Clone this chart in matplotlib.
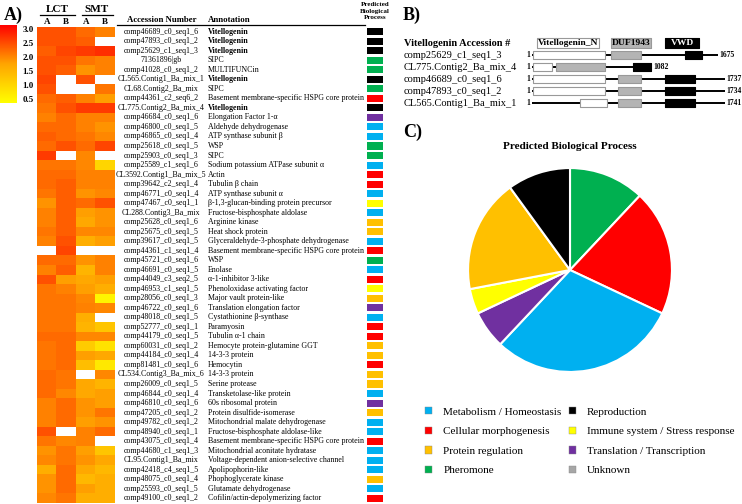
import numpy as np
import matplotlib
matplotlib.use("Agg")
import matplotlib.pyplot as plt
from matplotlib.colors import LinearSegmentedColormap
from matplotlib.patches import Patch

plt.rcParams['font.family'] = ['Liberation Serif', 'DejaVu Serif']

nan = np.nan

accessions = [
    "comp46689_c0_seq1_6", "comp47893_c0_seq1_2", "comp25629_c1_seq1_3", "71361896|gb",
    "comp41028_c0_seq1_2", "CL565.Contig1_Ba_mix_1", "CL68.Contig2_Ba_mix", "comp44361_c2_seq6_2",
    "CL775.Contig2_Ba_mix_4", "comp46684_c0_seq1_6", "comp46800_c0_seq1_5", "comp46865_c0_seq1_4",
    "comp25618_c0_seq1_5", "comp25903_c0_seq1_3", "comp25589_c1_seq1_6", "CL3592.Contig1_Ba_mix_5",
    "comp39642_c2_seq1_4", "comp46771_c0_seq1_4", "comp47467_c0_seq1_1", "CL288.Contig3_Ba_mix",
    "comp25628_c0_seq1_6", "comp25675_c0_seq1_5", "comp39617_c0_seq1_5", "comp44361_c1_seq1_4",
    "comp45721_c0_seq1_6", "comp46691_c0_seq1_5", "comp44049_c3_seq2_5", "comp46953_c1_seq1_5",
    "comp28056_c0_seq1_3", "comp46722_c0_seq1_6", "comp48018_c0_seq1_5", "comp52777_c0_seq1_1",
    "comp44179_c0_seq1_5", "comp60031_c0_seq1_2", "comp44184_c0_seq1_4", "comp81481_c0_seq1_6",
    "CL534.Contig3_Ba_mix_6", "comp26009_c0_seq1_5", "comp46844_c0_seq1_4", "comp46810_c0_seq1_6",
    "comp47205_c0_seq1_2", "comp49782_c0_seq1_2", "comp48940_c0_seq1_1", "comp43075_c0_seq1_4",
    "comp44680_c1_seq1_3", "CL95.Contig1_Ba_mix", "comp42418_c4_seq1_5", "comp48075_c0_seq1_4",
    "comp25593_c0_seq1_5", "comp49100_c0_seq1_2",
]

annotations = [
    "Vitellogenin", "Vitellogenin", "Vitellogenin", "SIPC",
    "MULTIFUNCin", "Vitellogenin", "SIPC", "Basement membrane-specific HSPG core protein",
    "Vitellogenin", "Elongation Factor 1-α", "Aldehyde dehydrogenase", "ATP synthase subunit β",
    "WSP", "SIPC", "Sodium potassium ATPase subunit α", "Actin",
    "Tubulin β chain", "ATP synthase subunit α", "β-1,3-glucan-binding protein precursor", "Fructose-bisphosphate aldolase",
    "Arginine kinase", "Heat shock protein", "Glyceraldehyde-3-phosphate dehydrogenase", "Basement membrane-specific HSPG core protein",
    "WSP", "Enolase", "α-1-inhibitor 3-like", "Phenoloxidase activating factor",
    "Major vault protein-like", "Translation elongation factor", "Cystathionine β-synthase", "Paramyosin",
    "Tubulin α-1 chain", "Hemocyte protein-glutamine GGT", "14-3-3 protein", "Hemocytin",
    "14-3-3 protein", "Serine protease", "Transketolase-like protein", "60s ribosomal protein",
    "Protein disulfide-isomerase", "Mitochondrial malate dehydrogenase", "Fructose-bisphosphate aldolase-like", "Basement membrane-specific HSPG core protein",
    "Mitochondrial aconitate hydratase", "Voltage-dependent anion-selective channel", "Apolipophorin-like", "Phophoglycerate kinase",
    "Glutamate dehydrogenase", "Cofilin/actin-depolymerizing factor",
]

# process codes: M metabolism, C cellular morph., P protein reg., H pheromone,
# R reproduction, I immune, T translation
process = [
    "R", "R", "R", "H", "H", "R", "H", "C", "R", "T",
    "M", "M", "H", "H", "M", "C", "C", "M", "I", "M",
    "P", "P", "M", "C", "H", "M", "C", "I", "P", "T",
    "M", "C", "C", "P", "P", "C", "P", "P", "M", "T",
    "P", "M", "M", "C", "M", "M", "M", "P", "M", "C",
]

lct_a = [2.45, 2.45, 2.35, 2.45, 2.45, 2.55, 2.45, 2.25, 2.15, 2.05,
         2.25, 2.35, 2.25, 2.65, 2.15, 2.25, 2.25, 2.15, 1.9, 2.05,
         2.05, 2.15, 2.05, nan, 2.25, 2.05, 2.45, 2.15, 2.15, 2.15,
         2.15, 2.15, 2.25, 2.15, 2.15, 2.15, 2.25, 2.25, 2.25, 2.05,
         2.05, 2.05, 2.45, 2.15, 1.9, 2.0, 1.6, 1.9, 1.9, 2.0]
lct_b = [2.45, 2.45, 2.55, 2.45, 2.35, nan, nan, 2.35, 2.45, 2.25,
         2.25, 2.25, 2.45, nan, 2.15, 2.25, 2.35, 2.35, 2.35, 2.35,
         2.35, 2.35, 2.45, 2.55, 2.25, 2.35, 1.8, 2.05, 2.15, 2.15,
         2.15, 2.15, 2.25, 2.25, 2.25, 2.25, 2.15, 2.15, 2.0, 2.25,
         2.25, 2.25, nan, 2.0, 2.15, 2.15, 2.25, 2.25, 2.25, 2.15]
smt_a = [2.25, 2.35, 2.65, 2.15, 1.9, 2.45, nan, 2.05, 2.65, 2.05,
         2.05, 2.15, 2.25, 2.0, 2.0, 2.05, 2.05, 1.9, 2.25, 1.8,
         1.7, 2.0, 1.6, nan, 1.9, 1.5, 1.7, 1.8, 2.0, 2.05,
         1.6, 1.5, 2.0, 1.15, 1.8, 1.35, nan, 1.7, 1.7, 1.9,
         1.9, 1.8, 2.05, 2.05, 1.8, 1.9, 1.7, 1.45, 1.8, 1.6]
smt_b = [2.05, nan, 2.75, 2.05, 2.05, nan, 2.15, 1.8, 2.65, 2.05,
         1.9, 2.0, 2.55, nan, 1.0, 2.05, 2.05, 2.0, 2.45, 1.9,
         1.9, 2.0, 1.8, nan, 2.05, 2.05, 1.8, 1.6, 0.5, 2.0,
         nan, 1.25, 2.0, 0.8, 1.7, 0.7, 2.0, 1.5, 1.8, 1.8,
         2.15, 1.9, 2.25, nan, 1.25, 1.7, 1.45, 1.6, 1.6, 1.6]

col_labels = ["A", "B", "A", "B"]

cat_keys = ["M", "C", "P", "H", "R", "I", "T", "U"]
cat_names = ["Metabolism / Homeostasis", "Cellular morphogenesis", "Protein regulation", "Pheromone",
             "Reproduction", "Immune system / Stress response", "Translation / Transcription", "Unknown"]
cat_colors = ["#00b0f0", "#ff0000", "#ffc000", "#00b050", "#000000", "#ffff00", "#7030a0", "#a6a6a6"]
pie_order = ["H", "C", "M", "T", "I", "P", "R"]

# vitellogenin domain architecture (amino acid positions)
vtg_ids = ["comp25629_c1_seq1_3", "CL775.Contig2_Ba_mix_4", "comp46689_c0_seq1_6",
           "comp47893_c0_seq1_2", "CL565.Contig1_Ba_mix_1"]
vtg_len = [1675, 1082, 1737, 1734, 1741]
vtg_n = [(10, 658), (10, 180), (10, 658), (10, 658), (432, 675)]
vtg_duf = [(712, 982), (216, 658), (775, 982), (775, 982), (775, 982)]
vtg_vwd = [(1378, 1531), (910, 1072), (1198, 1468), (1198, 1468), (1198, 1468)]

W, H = 742, 504
fig = plt.figure(figsize=(W / 100, H / 100), dpi=100)


def px_axes(x0, y0, x1, y1):
    return fig.add_axes([x0 / W, 1 - y1 / H, (x1 - x0) / W, (y1 - y0) / H])


def ftext(x, y, s, **kw):
    fig.text(x / W, 1 - y / H, s, **kw)


# ---------- A) heatmap ----------
data = np.array([lct_a, lct_b, smt_a, smt_b]).T
cmap = LinearSegmentedColormap.from_list("yor", ["#ffff00", "#ffa500", "#ff0000"])
cmap.set_bad("white")
n = len(accessions)

axh = px_axes(37, 27, 115, 503)
im = axh.imshow(np.ma.masked_invalid(data), cmap=cmap, vmin=0.35, vmax=3.15,
                aspect="auto", interpolation="nearest")
axh.set_xticks(range(4))
axh.set_xticklabels(col_labels, fontsize=6.5, fontweight="bold")
axh.xaxis.tick_top()
axh.tick_params(length=0, pad=1)
axh.set_yticks([])
for s in axh.spines.values():
    s.set_visible(False)

cax = px_axes(0, 25, 17, 103)
cb = fig.colorbar(im, cax=cax, ticks=[0.5, 1.0, 1.5, 2.0, 2.5, 3.0])
cb.outline.set_visible(False)
cax.tick_params(length=0, pad=4, labelsize=6.5)
for t in cax.get_yticklabels():
    t.set_fontweight("bold")

ftext(4, 15, "A)", fontsize=13, fontweight="bold", va="center")
ftext(57, 10, "LCT", fontsize=8, fontweight="bold", ha="center", va="center")
ftext(97, 10, "SMT", fontsize=8, fontweight="bold", ha="center", va="center")
fig.add_artist(plt.Line2D([40 / W, 75 / W], [1 - 15 / H] * 2, color="black", lw=0.9))
fig.add_artist(plt.Line2D([82 / W, 113 / W], [1 - 15 / H] * 2, color="black", lw=0.9))

axt = px_axes(115, 27, 420, 503)
axt.set_xlim(115, 420)
axt.set_ylim(n - 0.5, -0.5)
axt.axis("off")
color_of = dict(zip(cat_keys, cat_colors))
for i in range(n):
    axt.text(161, i, accessions[i], fontsize=5.7, ha="center", va="center")
    axt.text(208, i, annotations[i], fontsize=5.7, ha="left", va="center",
             fontweight="bold" if annotations[i] == "Vitellogenin" else "normal")
axt.barh(range(n), [16] * n, left=367, height=0.74,
         color=[color_of[p] for p in process])

ftext(162, 20, "Accession Number", fontsize=6.3, fontweight="bold", ha="center", va="center")
ftext(208, 20, "Annotation", fontsize=6.3, fontweight="bold", ha="left", va="center")
ftext(375, 11, "Predicted\nBiological\nProcess", fontsize=5, fontweight="bold",
      ha="center", va="center", linespacing=1.35)
fig.add_artist(plt.Line2D([117 / W, 365 / W], [1 - 25 / H] * 2, color="black", lw=0.9))

# ---------- B) vitellogenin domains ----------
ftext(403, 15, "B)", fontsize=13, fontweight="bold", va="center")
axd = px_axes(532, 37, 742, 109)
axd.set_xlim(0, 210 / 0.1111)
axd.set_ylim(len(vtg_ids) - 0.5, -1.5)
axd.axis("off")
bh = 0.66
for i in range(len(vtg_ids)):
    axd.hlines(i, 0, vtg_len[i], color="black", lw=1.4, zorder=1)
    axd.broken_barh([(vtg_n[i][0], vtg_n[i][1] - vtg_n[i][0])], (i - bh / 2, bh),
                    facecolor="white", edgecolor="#999999", lw=0.8, zorder=2)
    axd.broken_barh([(vtg_duf[i][0], vtg_duf[i][1] - vtg_duf[i][0])], (i - bh / 2, bh),
                    facecolor="#b4b4b4", edgecolor="#999999", lw=0.8, zorder=2)
    axd.broken_barh([(vtg_vwd[i][0], vtg_vwd[i][1] - vtg_vwd[i][0])], (i - bh / 2, bh),
                    facecolor="black", edgecolor="black", lw=0.8, zorder=2)
    axd.text(-12, i, "1", fontsize=5.5, fontweight="bold", ha="right", va="center")
    axd.text(vtg_len[i] + 12, i, str(vtg_len[i]), fontsize=5.5, fontweight="bold",
             ha="left", va="center")
    axd.text(-0.61, i, vtg_ids[i], fontsize=7.5, ha="left", va="center",
             transform=axd.get_yaxis_transform())
axd.text(-0.61, -1, "Vitellogenin Accession #", fontsize=7.5, fontweight="bold",
         ha="left", va="center", transform=axd.get_yaxis_transform())
lh = 0.85
leg_boxes = [(45, 604, "white", "#999999", "black", "Vitellogenin_N"),
             (712, 1072, "#b4b4b4", "#999999", "black", "DUF1943"),
             (1198, 1505, "black", "black", "white", "VWD")]
for x0, x1, fc, ec, tc, lab in leg_boxes:
    axd.broken_barh([(x0, x1 - x0)], (-1 - lh / 2, lh), facecolor=fc, edgecolor=ec, lw=0.8)
    axd.text((x0 + x1) / 2, -1, lab, fontsize=6.8, fontweight="bold", color=tc,
             ha="center", va="center")

# ---------- C) pie ----------
ftext(403, 132, "C)", fontsize=13, fontweight="bold", va="center")
ftext(570, 146, "Predicted Biological Process", fontsize=8, fontweight="bold",
      ha="center", va="center")
counts = [process.count(k) for k in pie_order]
axp = px_axes(466, 166, 674, 374)
axp.pie(counts, colors=[color_of[k] for k in pie_order], startangle=90, counterclock=False,
        wedgeprops=dict(edgecolor="white", linewidth=1.5))
axp.set_xlim(-1.02, 1.02)
axp.set_ylim(-1.02, 1.02)

handles = [Patch(facecolor=c, edgecolor="#888888", lw=0.3) for c in cat_colors]
fig.legend(handles, cat_names, ncol=2, loc="upper left",
           bbox_to_anchor=(425 / W, 1 - 407 / H), frameon=False,
           prop={"size": 8}, handlelength=0.65, handleheight=0.65,
           handletextpad=1.0, columnspacing=0.65, labelspacing=0.9,
           borderpad=0, borderaxespad=0)

fig.savefig("out.png", dpi=100)
